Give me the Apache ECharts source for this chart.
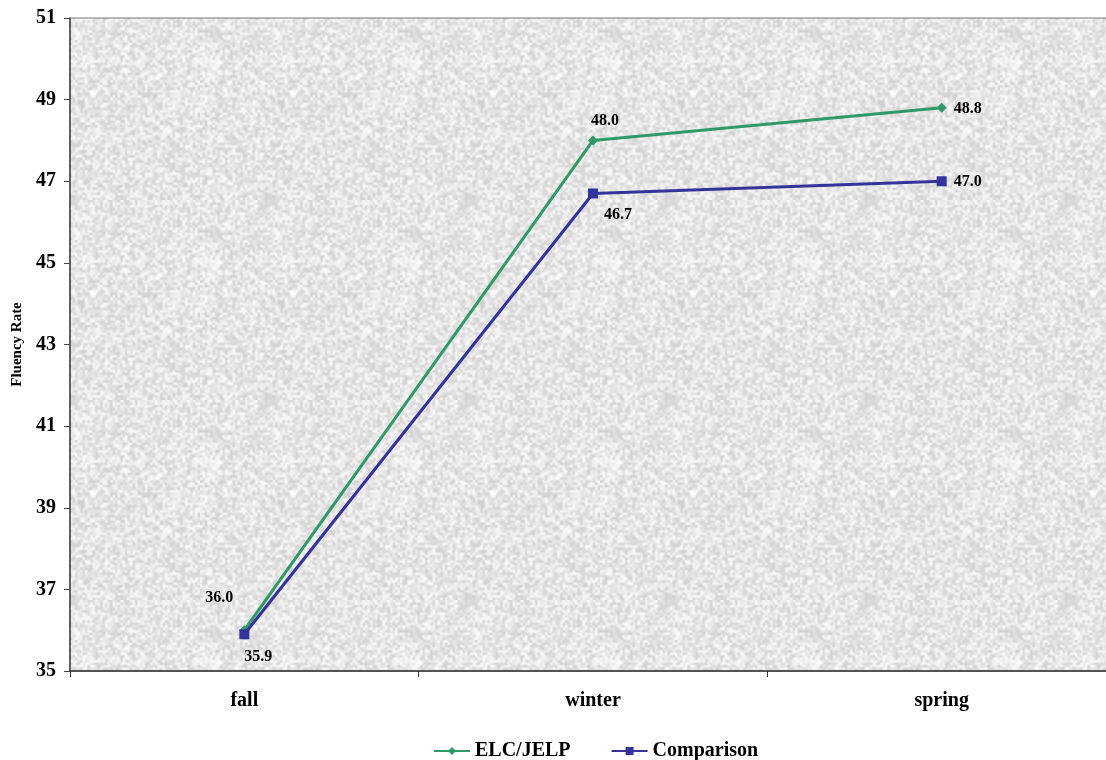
<!DOCTYPE html>
<html>
<head>
<meta charset="utf-8">
<script src="https://cdn.jsdelivr.net/npm/echarts@6/dist/echarts.min.js"></script>
<style>
  html, body { margin: 0; padding: 0; background: #fff; }
  #chart { width: 1106px; height: 760px; }
</style>
</head>
<body>
<div id="chart"></div>
<script>
// data
const categories = ['fall', 'winter', 'spring'];
const elcValues = [36.0, 48.0, 48.8];
const comparisonValues = [35.9, 46.7, 47.0];
const seriesNames = ['ELC/JELP', 'Comparison'];

const green = '#2f9967';
const blue = '#333399';
const serif = '"Liberation Serif", "DejaVu Serif", serif';

// grainy light-gray backdrop like the original (deterministic hash, not data)
function makeTexture() {
    const small = document.createElement('canvas');
    small.width = 80; small.height = 80;
    const sctx = small.getContext('2d');
    const img = sctx.createImageData(80, 80);
    for (let i = 0; i < 80 * 80; i++) {
        let h = (i * 2654435761) >>> 0;
        h ^= h >>> 15; h = Math.imul(h, 2246822519) >>> 0; h ^= h >>> 13;
        const v = 230 + (h % 24);
        img.data[i * 4] = v;
        img.data[i * 4 + 1] = v;
        img.data[i * 4 + 2] = v;
        img.data[i * 4 + 3] = 255;
    }
    sctx.putImageData(img, 0, 0);
    const c = document.createElement('canvas');
    c.width = 200; c.height = 200;
    const ctx = c.getContext('2d');
    ctx.imageSmoothingEnabled = true;
    ctx.drawImage(small, 0, 0, 200, 200);
    return c;
}

// label placement per point: [position, offset]
const elcLabels = [['top', [-25, -14]], ['top', [12, -2]], ['right', [2, 1]]];
const cmpLabels = [['bottom', [14, 5]], ['bottom', [25, 3]], ['right', [2, 1]]];

function withLabels(values, places) {
    return values.map((v, i) => ({
        value: v,
        label: { position: places[i][0], offset: places[i][1] }
    }));
}

const labelStyle = {
    show: true,
    color: '#000',
    fontFamily: serif,
    fontWeight: 'bold',
    fontSize: 16,
    formatter: p => p.value.toFixed(1)
};

const chart = echarts.init(document.getElementById('chart'));
chart.setOption({
    animation: false,
    backgroundColor: '#fff',
    grid: {
        left: 70,
        width: 1046,
        top: 18,
        bottom: 89,
        outerBoundsMode: 'none',
        containLabel: false,
        show: true,
        borderColor: '#777',
        borderWidth: 1,
        backgroundColor: { image: makeTexture(), repeat: 'repeat' }
    },
    legend: {
        top: 736,
        left: 428,
        itemWidth: 36,
        itemHeight: 10,
        itemGap: 40,
        textStyle: { fontFamily: serif, fontWeight: 'bold', fontSize: 20, color: '#000' },
        data: seriesNames
    },
    xAxis: {
        type: 'category',
        data: categories,
        boundaryGap: true,
        axisLine: { lineStyle: { color: '#333', width: 1.5 } },
        axisTick: { show: true, length: 6, lineStyle: { color: '#333' } },
        axisLabel: {
            margin: 20,
            color: '#000',
            fontFamily: serif,
            fontWeight: 'bold',
            fontSize: 20
        },
        splitLine: { show: false }
    },
    yAxis: {
        type: 'value',
        min: 35,
        max: 51,
        interval: 2,
        name: 'Fluency Rate',
        nameLocation: 'middle',
        nameGap: 45,
        nameTextStyle: { fontFamily: serif, fontWeight: 'bold', fontSize: 15, color: '#000' },
        axisLine: { show: true, lineStyle: { color: '#444', width: 1.5 } },
        axisTick: { show: true, length: 6, lineStyle: { color: '#444' } },
        axisLabel: {
            margin: 14,
            color: '#000',
            fontFamily: serif,
            fontWeight: 'bold',
            fontSize: 20
        },
        splitLine: { show: false }
    },
    series: [
        {
            name: seriesNames[0],
            type: 'line',
            data: withLabels(elcValues, elcLabels),
            symbol: 'diamond',
            symbolSize: 10,
            itemStyle: { color: green },
            lineStyle: { color: green, width: 3 },
            label: labelStyle,
            z: 3
        },
        {
            name: seriesNames[1],
            type: 'line',
            data: withLabels(comparisonValues, cmpLabels),
            symbol: 'rect',
            symbolSize: 10,
            itemStyle: { color: blue },
            lineStyle: { color: blue, width: 3 },
            label: labelStyle,
            z: 4
        }
    ]
});
</script>
</body>
</html>
